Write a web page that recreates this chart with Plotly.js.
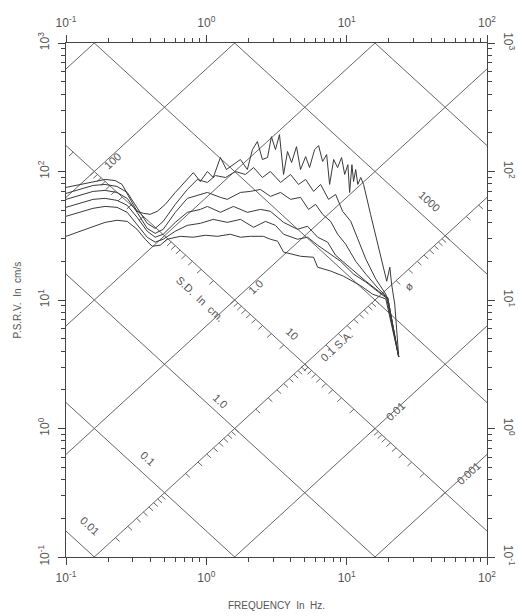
<!DOCTYPE html>
<html><head><meta charset="utf-8">
<script src="https://cdn.plot.ly/plotly-3.0.1.min.js"></script>
<style>html,body{margin:0;padding:0;background:#fff}</style>
</head><body><div id="chart" style="width:519px;height:616px"></div>
<script>
// Response spectrum curves (frequency in Hz, P.S.R.V. in cm/s), top to bottom
const freqA=[0.1,0.126,0.156,0.19,0.224,0.251,0.277,0.321,0.355,0.398,0.447,0.51,0.601,0.708,0.808,0.906,1.017,1.12,1.26,1.39,1.56,1.75,1.96,2.13,2.31,2.51,2.73,2.91,3.11,3.32,3.55,3.79,4.05,4.39,4.69,5.1,5.44,5.91,6.31,6.74,7.2,7.56,8.08,8.62,9.2,9.68,10.2,10.5,10.9,11.2,11.6,12,12.6,13.2,14.8,16.9,19.3,20.3,20.9,22,23.5];
const psvA=[75.2,79.3,83.6,86.7,85.1,79.3,65.2,49,47.3,46.4,49,55.5,68.7,83.6,98,83.6,100,89.8,128.5,103.6,113,124,103.6,148,171,124,128.5,186.6,148,193.6,94.8,143,117.5,156,103.6,130.6,107.4,148,159,119.6,135.5,79.3,124,107.4,128.5,94.8,113,68.7,113,83.6,103.6,79.3,89.8,79.3,46.4,24.8,14,18,13.3,9.3,3.6];
const freqB=[0.1,0.126,0.156,0.19,0.231,0.273,0.321,0.379,0.432,0.493,0.601,0.732,0.863,1.017,1.16,1.37,1.61,1.9,2.17,2.51,2.86,3.38,3.98,4.54,5.1,5.81,6.52,7.43,8.34,9.36,10.7,12,13.7,16.1,19,23.5];
const psvB=[67.5,72.5,77.9,79.3,76.5,68.7,52.6,39.5,36.1,40.9,55.5,72.5,86.7,82.2,93,89.8,100,94.8,107.4,89.8,100,82.2,94.8,79.3,86.7,70,79.3,60.7,66.3,49,40.9,29.7,20.8,14.6,11.1,3.6];
const freqC=[0.1,0.126,0.156,0.19,0.231,0.273,0.321,0.379,0.432,0.493,0.601,0.732,0.906,1.017,1.26,1.41,1.75,2.06,2.43,2.86,3.38,3.98,4.69,5.35,6.01,6.74,7.69,8.62,9.84,11.6,13.7,16.9,19.6,23.5];
const psvC=[60.7,65.2,70,71.3,68.7,61.8,48.1,36.1,33,35.5,48.1,61.8,66.3,68.7,62.9,60.7,68.7,70,72.5,64,68.7,60.7,62.9,50.7,55.5,46.4,40.9,32.5,27.2,20,15.9,12.2,10.5,3.6];
const freqD=[0.1,0.126,0.156,0.19,0.231,0.273,0.321,0.379,0.432,0.493,0.601,0.732,0.906,1.017,1.26,1.56,1.96,2.43,2.86,3.55,4.47,5.26,6.21,7.31,8.34,9.36,11.2,13.7,16.9,19.6,23.5];
const psvD=[52.6,56.5,60.7,61.8,59.6,54.5,44,34.3,30.8,32.5,40.2,48.1,50.7,53.5,48.1,53.5,48.1,50.7,49,40.2,35.5,37.5,30.8,28.2,22.3,20,16.8,14,11.7,10.4,3.6];
const freqE=[0.1,0.126,0.156,0.19,0.231,0.273,0.321,0.379,0.432,0.493,0.601,0.732,0.906,1.12,1.41,1.75,2.17,2.64,3.11,3.55,4.47,5.26,6.21,7.69,9.06,11.2,13.7,16.9,19.6,23.5];
const psvE=[44.8,48.1,51.7,53.5,52.6,48.1,38.8,30.8,28.2,29.7,34.3,38.1,39.5,42.4,40.2,42.4,36.8,40.9,38.1,32.5,29.7,30.8,26.7,22.7,20,15.9,13.8,11.5,10.2,3.6];
const freqF=[0.1,0.126,0.156,0.19,0.231,0.273,0.321,0.367,0.411,0.469,0.526,0.652,0.808,0.984,1.2,1.48,1.75,2.06,2.55,2.86,3.22,3.55,4.69,5.81,6.21,7.69,9.52,12.6,15.3,19,23.5];
const psvF=[31.3,34.3,37.5,40.2,41.7,40.9,35.5,29.7,26.2,26.7,29.7,31.3,30.8,31.9,31.3,32.5,30.8,31.3,31.3,29.7,28.7,23.6,21.9,21.5,18,16.8,15.3,12.9,11.1,10.2,3.6];

// Tripartite grid: S.D. lines (cm) and S.A. lines (cm/s^2)
const sdLineValues=[0.001,0.01,0.1,1,10,100,1000];
const saLineValues=[0.1,1,10,100,1000,10000,100000];
const sdScaleOnSA=100;   // S.D. scale drawn along this S.A. line
const saScaleOnSD=0.1;   // S.A. scale drawn along this S.D. line

// Axis ticks
const xTickVals=[0.1,1,10,100];
const xTickText=['10<sup>-1</sup>','10<sup>0</sup>','10<sup>1</sup>','10<sup>2</sup>'];
const yTickVals=[0.1,1,10,100,1000];
const yTickText=['10<sup>-1</sup>','10<sup>0</sup>','10<sup>1</sup>','10<sup>2</sup>','10<sup>3</sup>'];

// Scale labels: text, frequency, psv, angle
const labelText=['100','1.0','0.01','0.001','S.D.  In  cm.','0.01','0.1','1.0','10','1000','0.1 S.A.','ø'];
const labelFreq=[0.213,2.24,22.4,74.3,0.906,0.148,0.379,1.26,4.11,38.5,8.48,27.7];
const labelPsv=[121.7,12.6,1.36,0.448,10.2,0.174,0.585,1.65,5.45,58.5,4.4,12.9];
const labelAngle=[-43,-43,-43,-43,43,43,43,43,43,43,-43,-43];

const TWO_PI=2*Math.PI;
const curveColor='#3a3a3a', gridColor='#666', textColor='#555';
const traces=[];
const fEnds=[0.01,1000];
sdLineValues.forEach(sd=>{
  traces.push({x:fEnds,y:fEnds.map(f=>TWO_PI*f*sd),mode:'lines',line:{color:gridColor,width:1},hoverinfo:'skip',showlegend:false});
});
saLineValues.forEach(sa=>{
  traces.push({x:fEnds,y:fEnds.map(f=>sa/(TWO_PI*f)),mode:'lines',line:{color:gridColor,width:1},hoverinfo:'skip',showlegend:false});
});
// tick marks on the S.D. scale (along S.A. = sdScaleOnSA)
const tk=Math.pow(10,0.03);
let tx=[],ty=[];
for(let k=-3;k<=3;k++){for(let m=1;m<=9;m++){
  const sd=m*Math.pow(10,k);
  const v=Math.sqrt(sdScaleOnSA*sd), f=Math.sqrt(sdScaleOnSA/sd)/TWO_PI;
  tx.push(f,f/tk,null); ty.push(v,v/tk,null);
}}
// tick marks on the S.A. scale (along S.D. = saScaleOnSD)
for(let k=-1;k<=5;k++){for(let m=1;m<=9;m++){
  const sa=m*Math.pow(10,k);
  const v=Math.sqrt(sa*saScaleOnSD), f=Math.sqrt(sa/saScaleOnSD)/TWO_PI;
  tx.push(f,f*tk,null); ty.push(v,v/tk,null);
}}
traces.push({x:tx,y:ty,mode:'lines',line:{color:gridColor,width:1},hoverinfo:'skip',showlegend:false,connectgaps:false});

[[freqA,psvA],[freqB,psvB],[freqC,psvC],[freqD,psvD],[freqE,psvE],[freqF,psvF]].forEach(([fx,py])=>{
  traces.push({x:fx,y:py,mode:'lines',line:{color:curveColor,width:1},hoverinfo:'skip',showlegend:false});
});
// carrier for the top/right mirrored axes
traces.push({x:freqF,y:psvF,xaxis:'x2',yaxis:'y2',mode:'lines',opacity:0,hoverinfo:'skip',showlegend:false});

function minorVals(lo,hi){const a=[];for(let k=lo;k<hi;k++){for(let m=2;m<=9;m++)a.push(m*Math.pow(10,k));}return a;}
const font={family:'Liberation Sans, DejaVu Sans, sans-serif',size:12,color:textColor};
const baseX={type:'log',range:[-1,2],tickmode:'array',tickvals:xTickVals,ticktext:xTickText,ticks:'outside',ticklen:7,tickcolor:'#444',
  showline:true,linecolor:'#444',linewidth:1,showgrid:false,zeroline:false,tickfont:font,ticklabelstandoff:3,
  minor:{tickmode:'array',tickvals:minorVals(-1,2),ticks:'outside',ticklen:4,tickcolor:'#444',showgrid:false}};
const baseY={type:'log',range:[-1,3],tickmode:'array',tickvals:yTickVals,ticktext:yTickText,ticks:'outside',ticklen:7,tickcolor:'#444',
  showline:true,linecolor:'#444',linewidth:1,showgrid:false,zeroline:false,tickfont:font,ticklabelstandoff:4,
  minor:{tickmode:'array',tickvals:minorVals(-1,3),ticks:'outside',ticklen:4,tickcolor:'#444',showgrid:false}};

const annotations=labelText.map((t,i)=>({x:Math.log10(labelFreq[i]),y:Math.log10(labelPsv[i]),xref:'x',yref:'y',text:t,showarrow:false,
  textangle:labelAngle[i],font:{family:font.family,size:11,color:textColor}}));
annotations.push({xref:'paper',yref:'paper',x:0.5,y:0,yshift:-56,text:'FREQUENCY  In  Hz.',showarrow:false,font:{family:font.family,size:10,color:textColor}});
annotations.push({xref:'paper',yref:'paper',x:0,y:0.5,xshift:-57,text:'P.S.R.V.  In  cm/s',textangle:-90,showarrow:false,font:{family:font.family,size:10,color:textColor}});

const layout={width:519,height:616,margin:{l:66,r:32,t:43,b:59},paper_bgcolor:'#fff',plot_bgcolor:'#fff',showlegend:false,
  xaxis:Object.assign({},baseX,{side:'bottom'}),
  yaxis:Object.assign({},baseY,{side:'left',tickangle:-90}),
  xaxis2:Object.assign({},baseX,{side:'top',overlaying:'x',anchor:'y2'}),
  yaxis2:Object.assign({},baseY,{side:'right',overlaying:'y',anchor:'x2',tickangle:90}),
  annotations:annotations};
Plotly.newPlot('chart',traces,layout,{staticPlot:true});
</script></body></html>
